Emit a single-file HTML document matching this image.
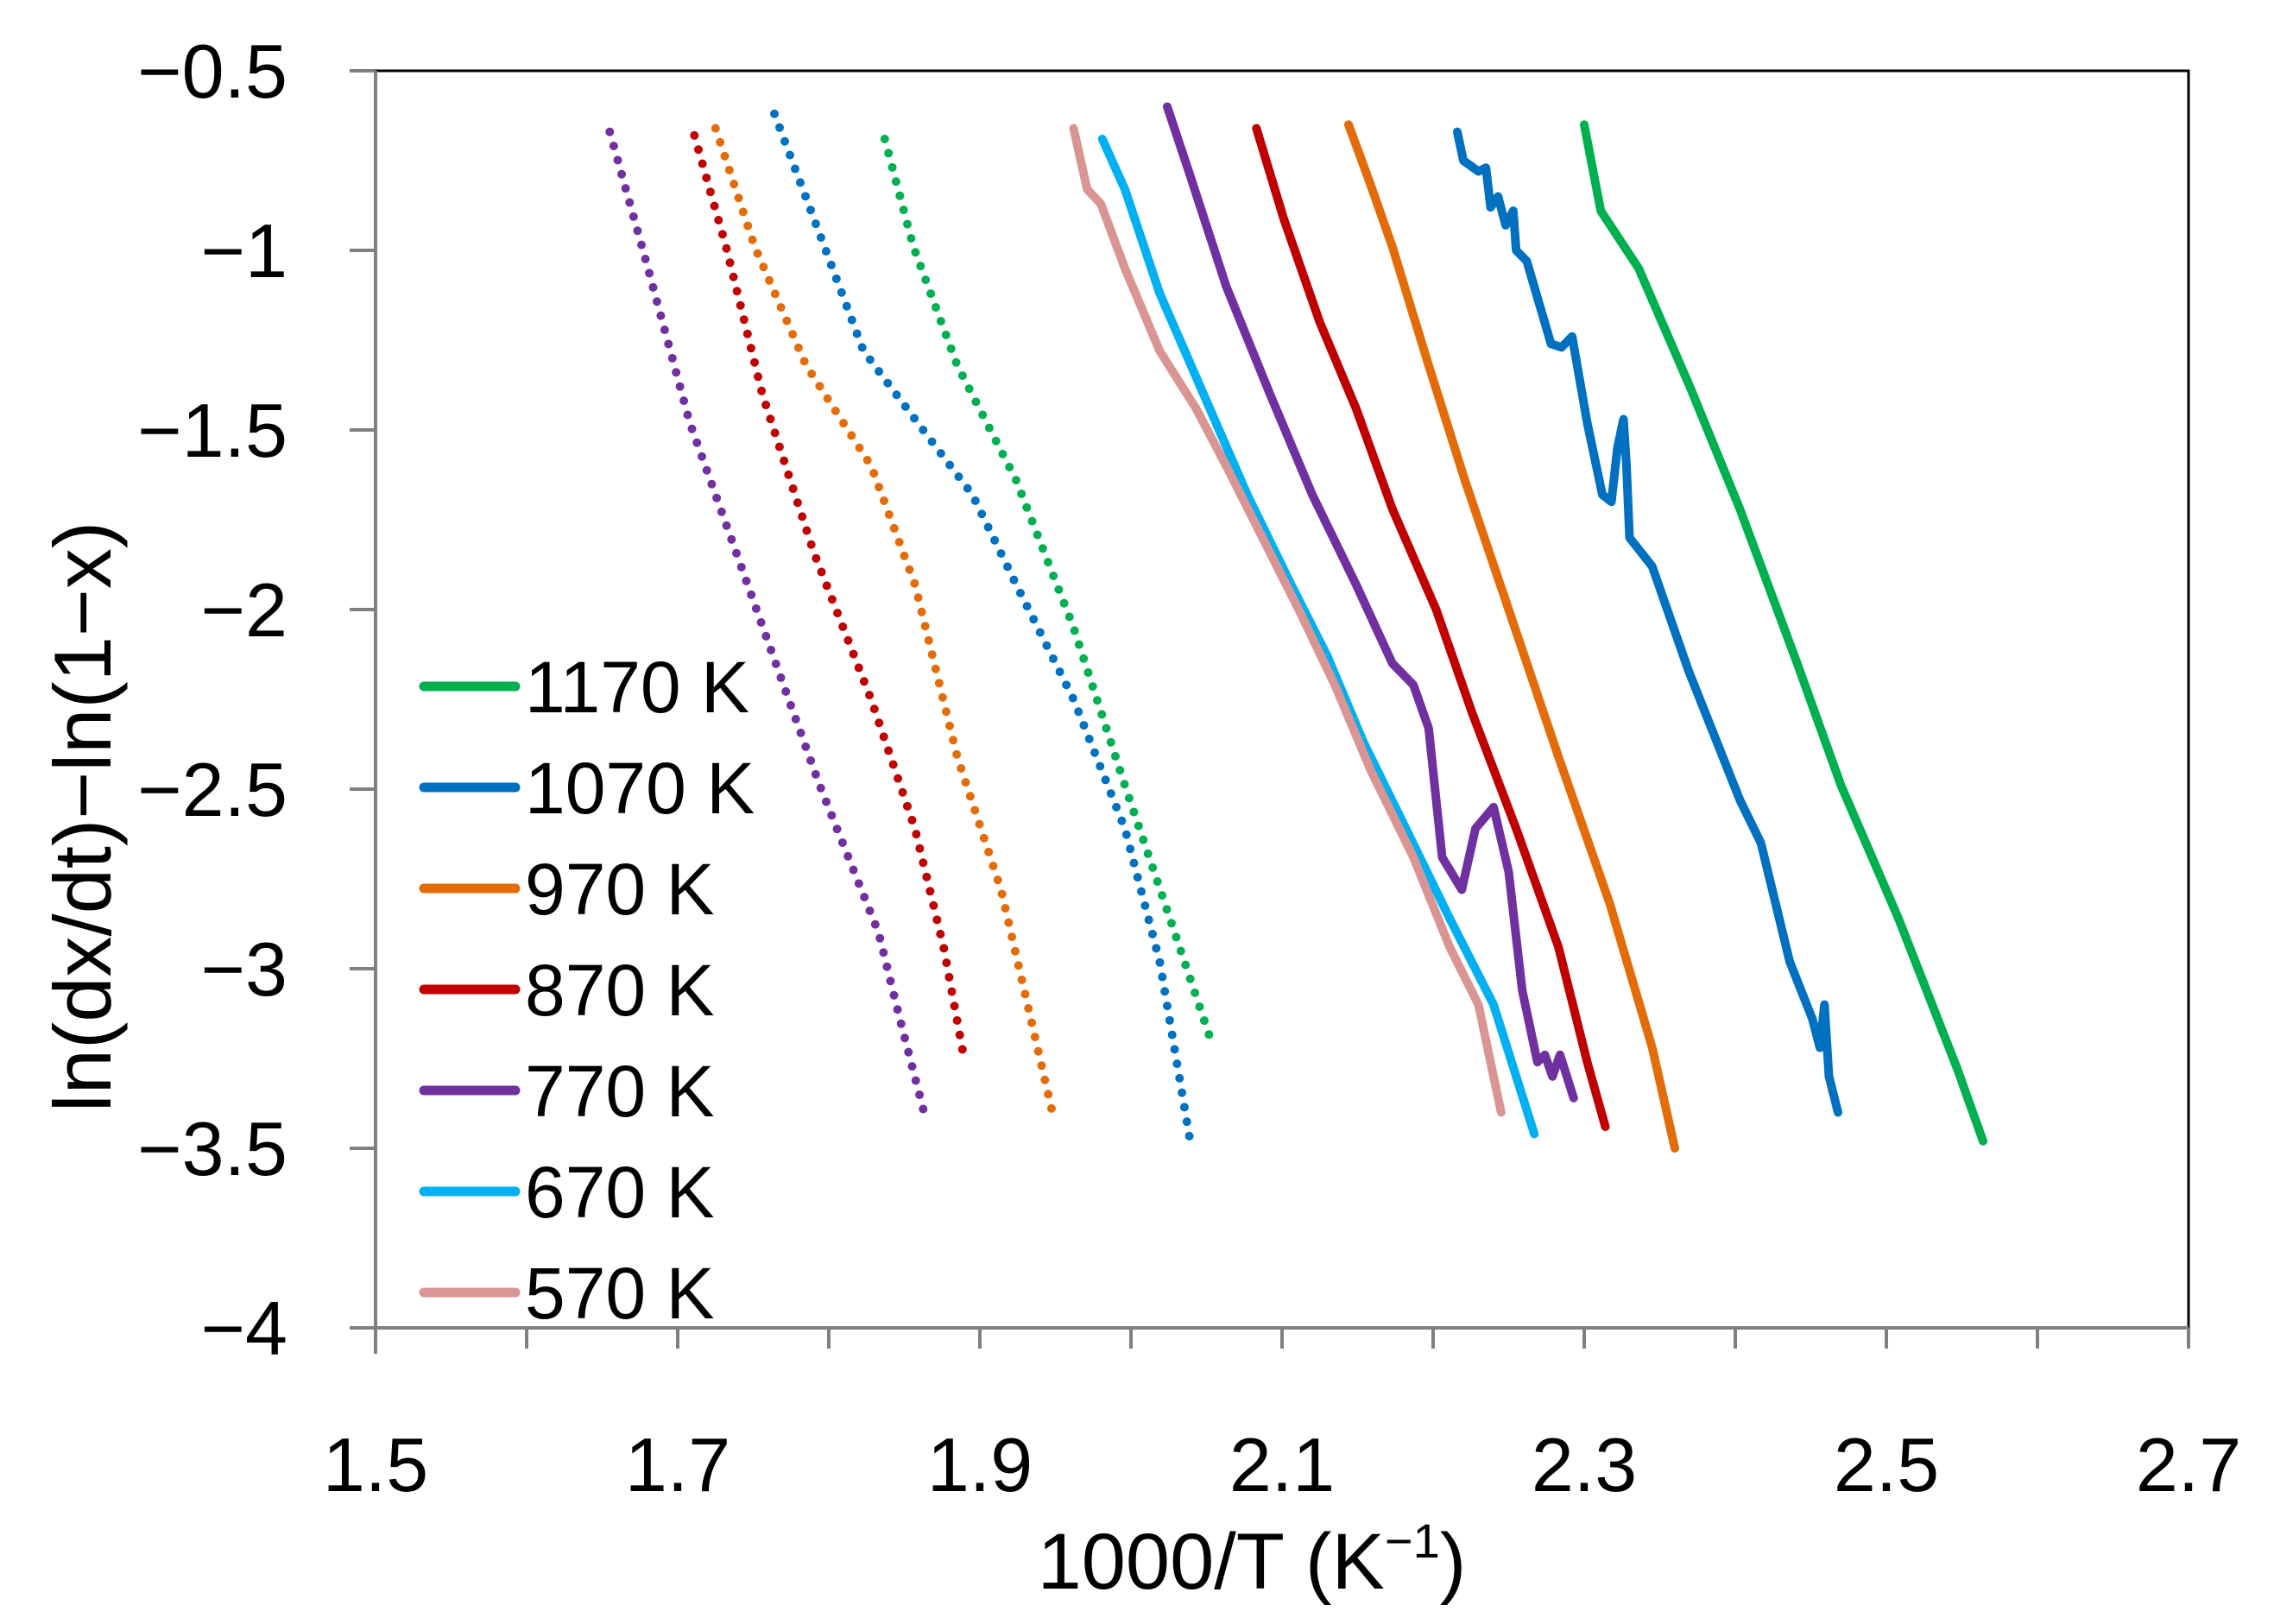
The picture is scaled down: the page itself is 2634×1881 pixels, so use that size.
<!DOCTYPE html>
<html><head><meta charset="utf-8"><style>
html,body{margin:0;padding:0;background:#fff;}
svg{display:block;font-family:"Liberation Sans","DejaVu Sans",sans-serif;}
</style></head><body>
<svg id="chart" width="2634" height="1881" viewBox="0 0 2634 1881">
<g id="axes"></g>
<g id="series"></g>
<g id="legend"></g>
<text x="1450" y="1840" text-anchor="middle" font-size="92" fill="#000">1000/T  (K<tspan font-size="56" dy="-36">−1</tspan><tspan dy="36">)</tspan></text>
<text transform="translate(128,946) rotate(-90)" text-anchor="middle" font-size="94" fill="#000">ln(dx/dt)−ln(1−x)</text>
</svg>
<script>
const xTicks=[1.5,1.6,1.7,1.8,1.9,2.0,2.1,2.2,2.3,2.4,2.5,2.6,2.7];
const xTickLabels=["1.5","","1.7","","1.9","","2.1","","2.3","","2.5","","2.7"];
const yTicks=[-0.5,-1,-1.5,-2,-2.5,-3,-3.5,-4];
const yTickLabels=["−0.5","−1","−1.5","−2","−2.5","−3","−3.5","−4"];
const seriesNames=["1170 K","1070 K","970 K","870 K","770 K","670 K","570 K"];
const seriesColors=["#00b050","#0070c0","#e36c09","#c00000","#7030a0","#00b0f0","#d99594"];
const solid1170=[[2.30,-0.65],[2.311,-0.89],[2.336,-1.05],[2.37,-1.38],[2.403,-1.72],[2.441,-2.15],[2.47,-2.49],[2.508,-2.86],[2.547,-3.28],[2.564,-3.48]];
const solid1070=[[2.216,-0.67],[2.22,-0.75],[2.23,-0.78],[2.235,-0.77],[2.238,-0.88],[2.243,-0.85],[2.248,-0.93],[2.253,-0.89],[2.255,-1.0],[2.262,-1.03],[2.278,-1.26],[2.285,-1.27],[2.292,-1.24],[2.302,-1.48],[2.312,-1.68],[2.318,-1.7],[2.322,-1.55],[2.326,-1.47],[2.328,-1.6],[2.33,-1.8],[2.345,-1.88],[2.369,-2.17],[2.403,-2.53],[2.417,-2.65],[2.436,-2.98],[2.451,-3.14],[2.456,-3.22],[2.459,-3.1],[2.462,-3.3],[2.468,-3.4]];
const solid970=[[2.144,-0.65],[2.158,-0.81],[2.173,-0.99],[2.197,-1.32],[2.221,-1.64],[2.25,-2.0],[2.283,-2.41],[2.317,-2.82],[2.345,-3.22],[2.36,-3.5]];
const solid870=[[2.083,-0.66],[2.101,-0.91],[2.125,-1.2],[2.149,-1.44],[2.173,-1.72],[2.202,-2.0],[2.226,-2.29],[2.255,-2.61],[2.283,-2.94],[2.302,-3.26],[2.314,-3.44]];
const solid770=[[2.024,-0.6],[2.039,-0.79],[2.063,-1.1],[2.092,-1.4],[2.12,-1.68],[2.149,-1.93],[2.173,-2.15],[2.187,-2.21],[2.197,-2.33],[2.206,-2.69],[2.219,-2.78],[2.228,-2.61],[2.24,-2.55],[2.25,-2.73],[2.259,-3.06],[2.269,-3.26],[2.274,-3.24],[2.279,-3.3],[2.284,-3.24],[2.293,-3.36]];
const solid670=[[1.981,-0.69],[1.996,-0.83],[2.019,-1.12],[2.048,-1.4],[2.077,-1.68],[2.106,-1.93],[2.13,-2.13],[2.154,-2.37],[2.182,-2.61],[2.211,-2.86],[2.24,-3.1],[2.267,-3.46]];
const solid570=[[1.962,-0.66],[1.971,-0.83],[1.98,-0.87],[1.996,-1.05],[2.019,-1.28],[2.043,-1.44],[2.063,-1.6],[2.087,-1.8],[2.111,-2.0],[2.135,-2.21],[2.159,-2.45],[2.187,-2.69],[2.211,-2.94],[2.23,-3.1],[2.245,-3.4]];
const dot1170=[[1.837,-0.69],[1.856,-0.99],[1.885,-1.32],[1.924,-1.64],[1.962,-2.05],[1.996,-2.49],[2.029,-2.9],[2.053,-3.2]];
const dot1070=[[1.764,-0.62],[1.79,-0.91],[1.823,-1.28],[1.866,-1.52],[1.895,-1.68],[1.924,-1.93],[1.962,-2.25],[1.996,-2.61],[2.019,-2.98],[2.04,-3.5]];
const dot970=[[1.725,-0.66],[1.751,-0.99],[1.785,-1.32],[1.828,-1.6],[1.857,-1.93],[1.885,-2.41],[1.914,-2.78],[1.948,-3.4]];
const dot870=[[1.711,-0.68],[1.732,-0.99],[1.756,-1.4],[1.79,-1.84],[1.828,-2.25],[1.857,-2.61],[1.876,-2.94],[1.89,-3.26]];
const dot770=[[1.655,-0.67],[1.679,-1.03],[1.708,-1.48],[1.742,-1.88],[1.77,-2.21],[1.794,-2.49],[1.813,-2.69],[1.833,-2.9],[1.847,-3.14],[1.863,-3.4]];
const solidSeries=[solid1170,solid1070,solid970,solid870,solid770,solid670,solid570];
const dotSeries=[dot1170,dot1070,dot970,dot870,dot770];

const NS="http://www.w3.org/2000/svg";
const L=435,R=2535,T=82,B=1538;
const xMin=1.5,xMax=2.7,yMin=-4,yMax=-0.5;
function sx(v){return L+(v-xMin)/(xMax-xMin)*(R-L);}
function sy(v){return B-(v-yMin)/(yMax-yMin)*(B-T);}
function mk(tag,attrs,parent){const e=document.createElementNS(NS,tag);for(const k in attrs)e.setAttribute(k,attrs[k]);parent.appendChild(e);return e;}
const axes=document.getElementById('axes');
let e;
e=mk('rect',{x:L,y:T,width:R-L,height:B-T,fill:'none',stroke:'#000','stroke-width':3},axes);


e=mk('line',{x1:L,y1:T,x2:L,y2:B,stroke:'#808080','stroke-width':4},axes);


e=mk('line',{x1:405,y1:B,x2:R,y2:B,stroke:'#808080','stroke-width':4},axes);


xTicks.forEach((v,i)=>{
  const x=sx(v);
  const t=mk('line',{x1:x,y1:B,x2:x,y2:B+(i===0?30:24),stroke:'#808080','stroke-width':4},axes);
  
  
  if(xTickLabels[i]){
    const lb=mk('text',{x:x,y:1727,'text-anchor':'middle','font-size':88,fill:'#000'},axes);
    lb.textContent=xTickLabels[i];
    
    
  }
});
yTicks.forEach((v,i)=>{
  const y=sy(v);
  const t=mk('line',{x1:405,y1:y,x2:L,y2:y,stroke:'#808080','stroke-width':4},axes);
  
  
  const lb=mk('text',{x:333,y:y+31,'text-anchor':'end','font-size':88,fill:'#000'},axes);
  lb.textContent=yTickLabels[i];
  
  
});
const sg=document.getElementById('series');
function pathD(pts){return pts.map((p,i)=>(i?'L':'M')+sx(p[0]).toFixed(1)+' '+sy(p[1]).toFixed(1)).join(' ');}
dotSeries.forEach((pts,i)=>{
  const p=mk('path',{d:pathD(pts),fill:'none',stroke:seriesColors[i],'stroke-width':10,'stroke-linecap':'round','stroke-dasharray':'0 17'},sg);
  
  
});
solidSeries.forEach((pts,i)=>{
  const p=mk('path',{d:pathD(pts),fill:'none',stroke:seriesColors[i],'stroke-width':10,'stroke-linecap':'round','stroke-linejoin':'round'},sg);
  
  
});
const lg=document.getElementById('legend');
seriesNames.forEach((n,i)=>{
  const y=795+i*117;
  const ln=mk('line',{x1:491,y1:y,x2:597,y2:y,stroke:seriesColors[i],'stroke-width':11,'stroke-linecap':'round'},lg);
  
  
  const t=mk('text',{x:608,y:y+30,'font-size':84,fill:'#000'},lg);
  t.textContent=n;
  
  
});
</script>
</body></html>
